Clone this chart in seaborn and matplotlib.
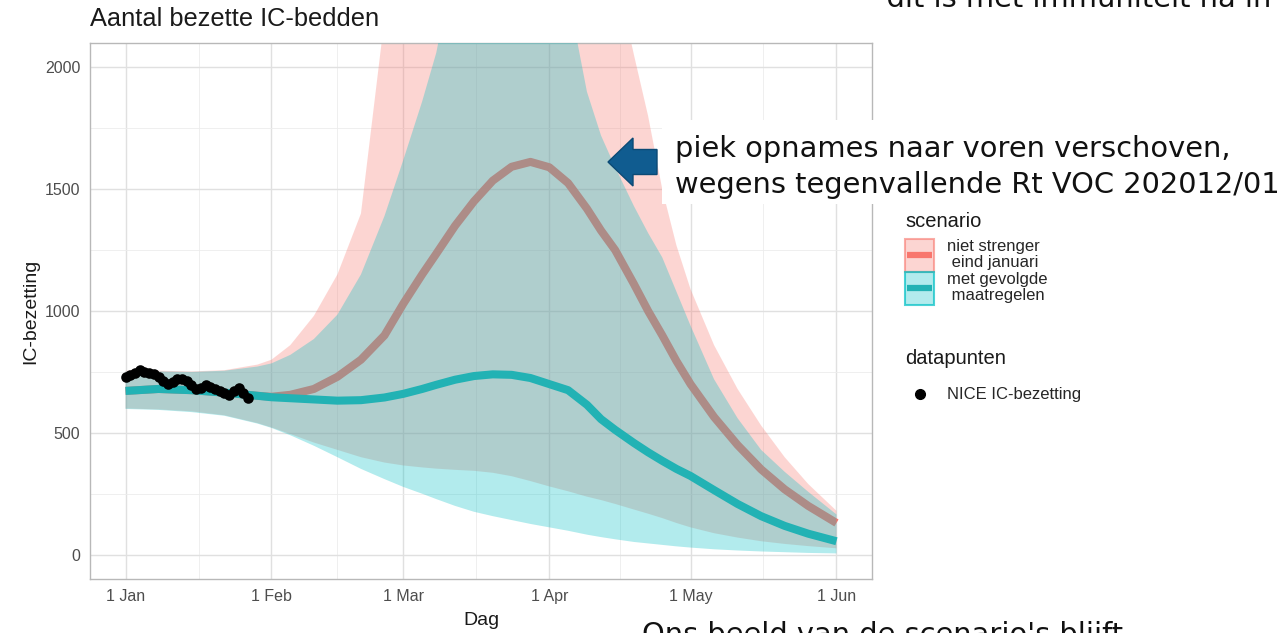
import pandas as pd
import matplotlib
matplotlib.use("Agg")
import matplotlib.pyplot as plt
from matplotlib.patches import Patch, FancyArrow, Rectangle
from matplotlib.lines import Line2D
from matplotlib.ticker import FixedLocator
import seaborn as sns

# --- data ---
start = pd.Timestamp("2021-01-01")

dag = [0, 7, 14, 21, 28, 31, 35, 40, 45, 50, 55, 59, 63, 66, 70, 74, 78, 82, 86, 90,
       94, 98, 101, 104, 108, 111, 114, 117, 120, 125, 130, 135, 140, 145, 151]

met_mid = [672, 680, 675, 665, 652, 646, 642, 637, 632, 634, 645, 660, 680, 697, 718, 733, 740, 738, 725, 700,
           675, 615, 556, 512, 458, 420, 385, 352, 323, 265, 208, 158, 118, 86, 55]
met_lo = [598, 594, 585, 570, 538, 520, 490, 447, 400, 352, 310, 278, 250, 228, 200, 176, 158, 142, 126, 112,
          98, 82, 72, 63, 52, 46, 40, 34, 29, 22, 17, 13, 10, 7, 5]
met_hi = [752, 752, 750, 755, 772, 785, 820, 885, 985, 1150, 1390, 1620, 1860, 2060, 2450, 2900, 3200, 3300, 3200, 2850,
          2300, 1900, 1720, 1590, 1430, 1320, 1220, 1080, 940, 720, 560, 430, 340, 258, 165]

niet_mid = [672, 680, 675, 665, 652, 648, 656, 680, 730, 800, 900, 1030, 1150, 1235, 1350, 1450, 1535, 1592, 1612, 1590,
            1525, 1420, 1330, 1250, 1110, 1000, 900, 795, 700, 565, 450, 350, 268, 200, 130]
niet_lo = [600, 596, 588, 572, 540, 522, 495, 460, 430, 400, 378, 366, 358, 353, 348, 344, 336, 322, 302, 280,
           260, 238, 224, 208, 185, 168, 150, 130, 112, 88, 70, 55, 44, 35, 26]
niet_hi = [755, 755, 752, 757, 780, 800, 860, 980, 1150, 1400, 2200, 2900, 3500, 3900, 4300, 4500, 4600, 4500, 4300, 4000,
           3600, 3200, 2700, 2400, 2050, 1800, 1500, 1270, 1090, 860, 680, 530, 400, 290, 180]

nice_dag = list(range(27))
nice_ic = [730, 736, 746, 756, 751, 745, 740, 730, 712, 702, 708, 720, 722, 712, 695, 678, 686, 695, 690, 680,
           670, 662, 655, 672, 682, 665, 642]

scenarios = ["niet strenger\n eind januari", "met gevolgde\n maatregelen"]
tick_dates = ["2021-01-01", "2021-02-01", "2021-03-01", "2021-04-01", "2021-05-01", "2021-06-01"]
tick_labels = ["1 Jan", "1 Feb", "1 Mar", "1 Apr", "1 May", "1 Jun"]
minor_dates = ["2021-01-16 12:00", "2021-02-15 00:00", "2021-03-16 12:00", "2021-04-16 00:00", "2021-05-16 12:00"]
y_ticks = [0, 500, 1000, 1500, 2000]
y_minor = [250, 750, 1250, 1750]

ROOD = "#F8766D"
TEAL = "#00BFC4"
TEAL_LINE = "#22b2b4"

datum = start + pd.to_timedelta(dag, unit="D")
model = pd.concat([
    pd.DataFrame({"datum": datum, "mid": niet_mid, "lo": niet_lo, "hi": niet_hi, "scenario": scenarios[0]}),
    pd.DataFrame({"datum": datum, "mid": met_mid, "lo": met_lo, "hi": met_hi, "scenario": scenarios[1]}),
])
nice = pd.DataFrame({"datum": start + pd.to_timedelta(nice_dag, unit="D"), "ic": nice_ic})


class RibbonKey:
    # ggplot-like key: filled box with the line through its middle
    def legend_artist(self, legend, orig_handle, fontsize, handlebox):
        x0, y0 = -handlebox.xdescent, -handlebox.ydescent
        w, h = handlebox.width, handlebox.height
        box = Rectangle((x0, y0), w, h, facecolor=orig_handle.get_facecolor(),
                        edgecolor=orig_handle.get_edgecolor(), linewidth=1.5,
                        transform=handlebox.get_transform())
        line = Line2D([x0 + 0.08 * w, x0 + 0.92 * w], [y0 + h / 2, y0 + h / 2],
                      color=orig_handle.get_gid(), linewidth=4.5, solid_capstyle="butt",
                      transform=handlebox.get_transform())
        handlebox.add_artist(box)
        handlebox.add_artist(line)
        return box


# --- style ---
sns.set_theme(style="whitegrid")
plt.rcParams["font.family"] = ["Liberation Sans", "DejaVu Sans"]

fig = plt.figure(figsize=(12.83, 6.33), dpi=100)
ax = fig.add_axes([90 / 1283, 1 - 579 / 633, 782 / 1283, 536 / 633])
ax.set_facecolor("white")

kleuren = {scenarios[0]: (ROOD, ROOD), scenarios[1]: (TEAL, TEAL_LINE)}
z = 1
for sc in scenarios:
    d = model[model["scenario"] == sc]
    fill_c, line_c = kleuren[sc]
    ax.fill_between(d["datum"], d["lo"], d["hi"], color=fill_c, alpha=0.3, linewidth=0, zorder=z)
    sns.lineplot(data=d, x="datum", y="mid", color=line_c, linewidth=5.8, ax=ax,
                 zorder=z + 1, legend=False, solid_capstyle="butt")
    z += 2

sns.scatterplot(data=nice, x="datum", y="ic", color="black", s=58, linewidth=0, ax=ax, zorder=6, legend=False)

# axes
ax.set_xlim(start - pd.Timedelta(days=7.55), start + pd.Timedelta(days=158.55))
ax.set_ylim(-100, 2100)
ax.xaxis.set_major_locator(FixedLocator(matplotlib.dates.date2num(pd.to_datetime(tick_dates))))
ax.xaxis.set_minor_locator(FixedLocator(matplotlib.dates.date2num(pd.to_datetime(minor_dates))))
ax.set_xticklabels(tick_labels)
ax.set_yticks(y_ticks)
ax.yaxis.set_minor_locator(FixedLocator(y_minor))
ax.grid(which="major", color="#e0e0e0", linewidth=1.0, zorder=0)
ax.grid(which="minor", color="#ececec", linewidth=0.6, zorder=0)
ax.set_axisbelow(True)
for s in ax.spines.values():
    s.set_color("#b8b8b8")
    s.set_linewidth(1.0)
ax.tick_params(which="major", length=4, width=0.9, color="#b8b8b8", labelcolor="#4d4d4d",
               labelsize=11.5, pad=3)
ax.tick_params(which="minor", length=0)

ax.set_xlabel("Dag", fontsize=14, color="#1a1a1a")
ax.set_ylabel("IC-bezetting", fontsize=14, color="#1a1a1a")
ax.xaxis.set_label_coords(0.5, (579 - 612) / 536)
ax.yaxis.set_label_coords((39 - 90) / 782, 0.5)

fig.text(90 / 1283, 1 - 26 / 633, "Aantal bezette IC-bedden", fontsize=18.3, color="#1a1a1a",
         ha="left", va="baseline")

# legends (titles as separate texts, ggplot-style spacing)
fig.text(905 / 1283, 1 - 227 / 633, "scenario", fontsize=14.5, color="#1a1a1a", ha="left", va="baseline")
h_scen = [
    Patch(facecolor=(0.973, 0.463, 0.427, 0.3), edgecolor=(0.973, 0.463, 0.427, 0.6), gid=ROOD),
    Patch(facecolor=(0.0, 0.749, 0.769, 0.3), edgecolor=(0.0, 0.749, 0.769, 0.7), gid=TEAL_LINE),
]
leg1 = fig.legend(h_scen, scenarios, loc="upper left", handler_map={Patch: RibbonKey()},
                  bbox_to_anchor=(905 / 1283, 1 - 239 / 633), bbox_transform=fig.transFigure,
                  frameon=False, fontsize=12,
                  handlelength=1.75, handleheight=2.65, labelspacing=0.0, handletextpad=0.75,
                  borderpad=0, borderaxespad=0)
for t in leg1.get_texts():
    t.set_linespacing(1.05)

fig.text(905 / 1283, 1 - 364 / 633, "datapunten", fontsize=14.5, color="#1a1a1a", ha="left", va="baseline")
h_nice = [Line2D([], [], marker="o", color="black", linestyle="none", markersize=7)]
fig.legend(h_nice, ["NICE IC-bezetting"], loc="center left",
           bbox_to_anchor=(905 / 1283, 1 - 395 / 633), bbox_transform=fig.transFigure,
           frameon=False, fontsize=12,
           handlelength=1.75, handletextpad=0.75, borderpad=0, borderaxespad=0)

# annotation block
fig.patches.append(Rectangle((662 / 1283, 1 - 204 / 633), 621 / 1283, 84 / 633,
                             transform=fig.transFigure, facecolor="white", edgecolor="none"))
fig.text(675 / 1283, 1 - 167 / 633, "piek opnames naar voren verschoven,\nwegens tegenvallende Rt VOC 202012/01",
         family=["DejaVu Sans"], fontsize=20.8, color="#111111", ha="left", va="center", linespacing=1.38)
fig.patches.append(FancyArrow(6.57, (633 - 162) / 100, -0.49, 0, width=0.25, head_width=0.48,
                              head_length=0.25, length_includes_head=True,
                              transform=fig.dpi_scale_trans, facecolor="#105c90", edgecolor="#0b4a75",
                              linewidth=1))

fig.text(867 / 1283, 1 - 7 / 633, "- dit is met immuniteit na in", family=["DejaVu Sans"],
         fontsize=20.8, color="#111111", ha="left", va="baseline")
fig.text(642 / 1283, 1 - 643 / 633, "Ons beeld van de scenario's blijft", family=["DejaVu Sans"],
         fontsize=20.8, color="#111111", ha="left", va="baseline")

fig.savefig("out.png", dpi=100)
